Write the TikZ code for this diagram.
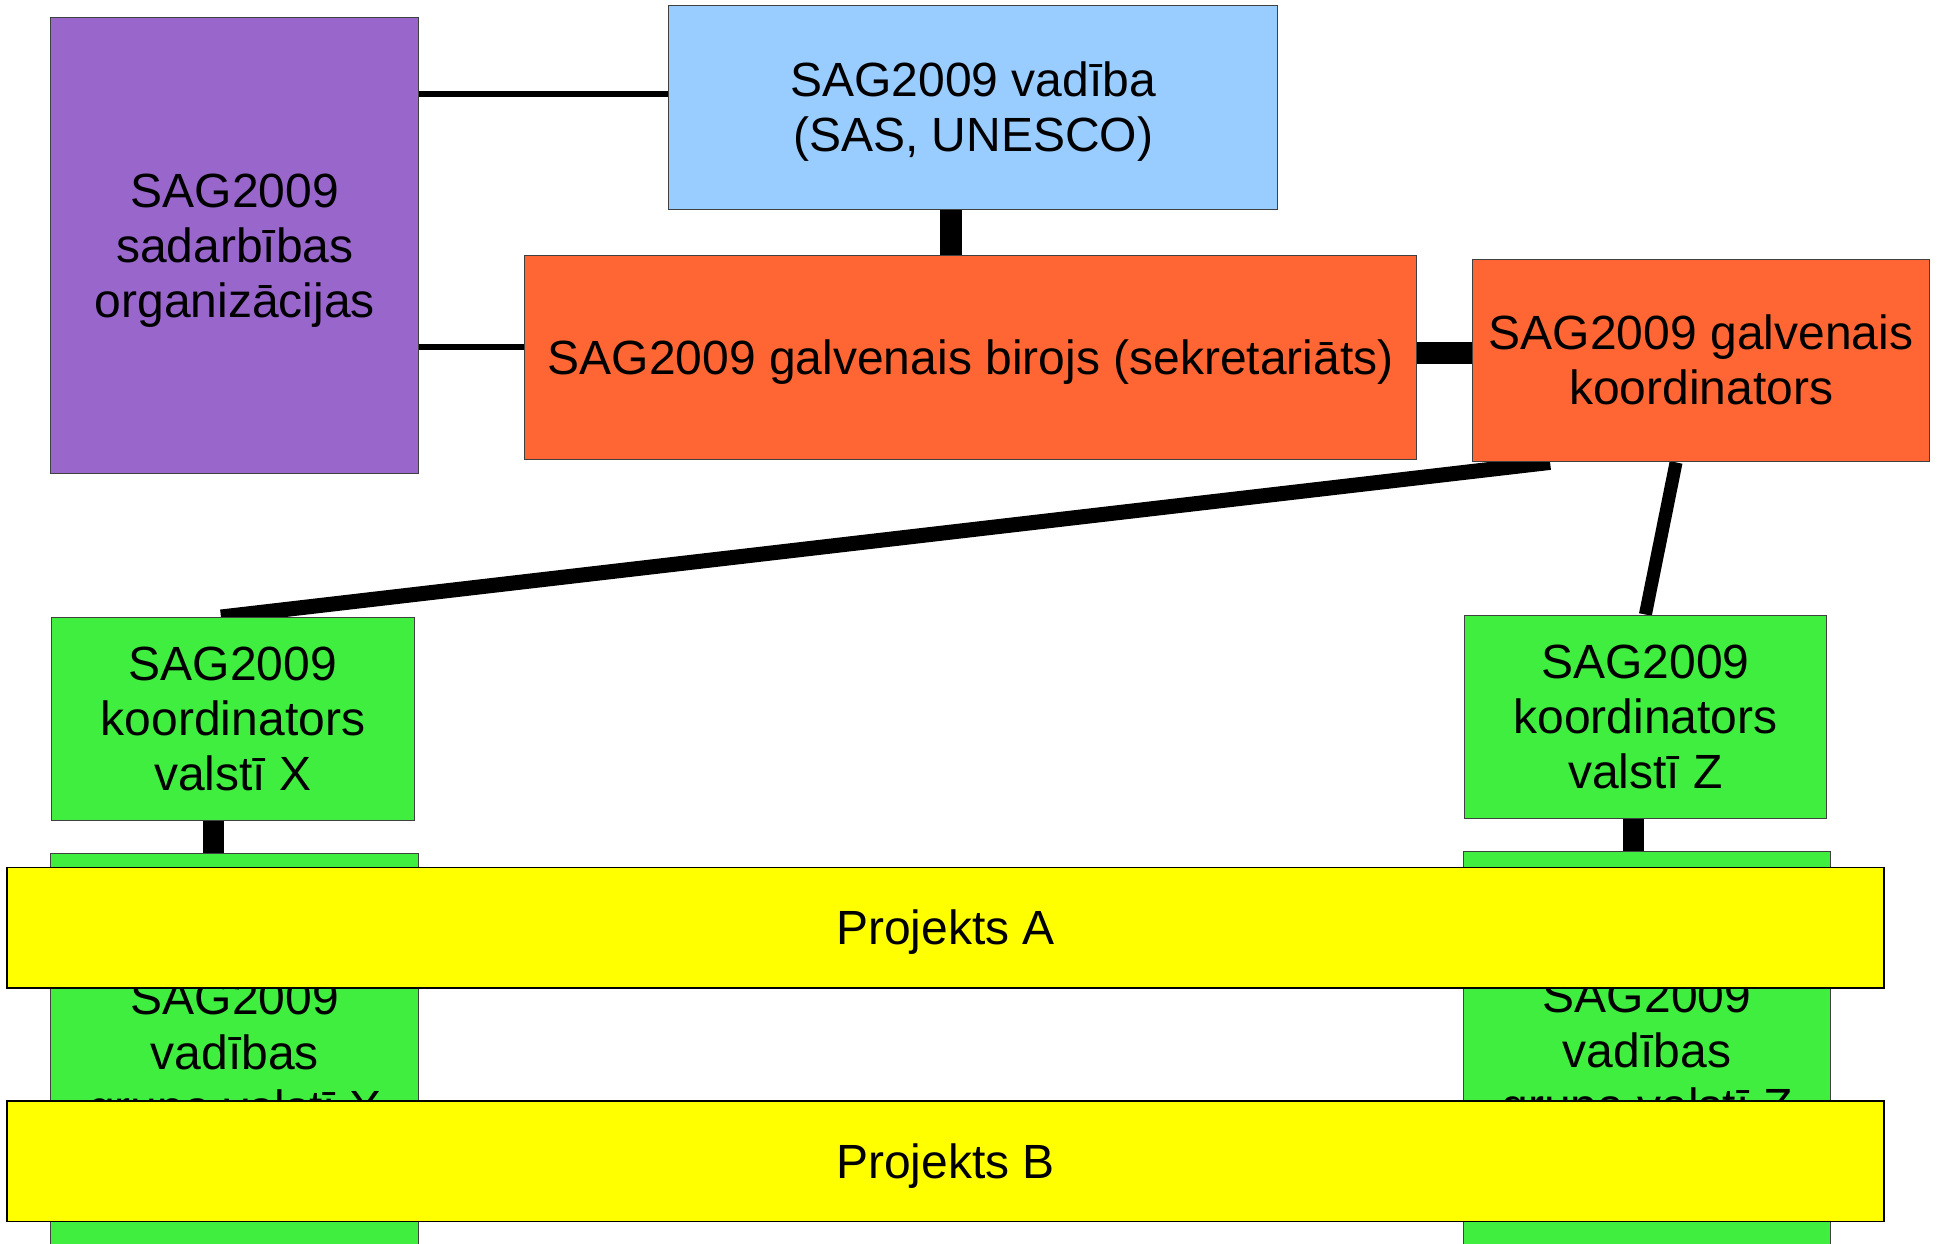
\documentclass[tikz,border=0pt]{standalone}
\usepackage{fontspec}
\setmainfont{Liberation Sans}
\usepackage{tikz}
\definecolor{orgviolet}{HTML}{9966CC}
\definecolor{vadblue}{HTML}{99CCFF}
\definecolor{birorange}{HTML}{FF6633}
\definecolor{valgreen}{HTML}{3FEE3F}
\definecolor{projyellow}{HTML}{FFFF00}
\newcommand{\linetop}{\rule{0pt}{43.4bp}}
\tikzset{mybox/.style={draw=black!75,line width=1bp,inner sep=0pt,align=center,
    execute at begin node={\linetop},execute at end node={\rule[-10.2bp]{0pt}{10.2bp}}} }
\tikzset{greenbox/.style={mybox,fill=valgreen,minimum width=362bp,minimum height=203bp} }
\tikzset{projbox/.style={mybox,draw=black,line width=1.5bp,fill=projyellow,minimum width=1877bp,minimum height=120.5bp} }
\tikzset{conn/.style={line width=#1,line cap=butt} }
\usetikzlibrary{positioning,backgrounds}

\begin{document}
\begin{tikzpicture}[x=1bp,y=-1bp,font=\fontsize{48bp}{55bp}\selectfont]
    \useasboundingbox (0,0) rectangle (1937,1243);
    \clip (0,0) rectangle (1937,1243);
    \node[mybox,fill=orgviolet,minimum width=368bp,minimum height=455.5bp] (org) at (234.8,245.6) {\linetop SAG2009\\sadarbības\\organizācijas};
    \node[mybox,fill=vadblue,minimum width=609bp,minimum height=203.3bp] (vad) at (973.2,107.6) {\linetop SAG2009 vadība\\(SAS, UNESCO)};
    \node[mybox,fill=birorange,minimum width=892bp,minimum height=203.3bp] (biroj) at (970.7,357.5) {SAG2009 galvenais birojs (sekretariāts)};
    \node[mybox,fill=birorange,minimum width=456.7bp,minimum height=202.8bp,right=55bp of biroj,yshift=-3bp] (koord) {\linetop SAG2009 galvenais\\koordinators};
    \node[greenbox] (valx) at (233,719) {\linetop SAG2009\\koordinators\\valstī X};
    \node[greenbox] (valz) at (1645.4,716.5) {\linetop SAG2009\\koordinators\\valstī Z};
    \node[greenbox,minimum width=368bp,minimum height=398bp,below=32.4bp of valx,xshift=1.8bp] (grpx) {\linetop SAG2009\\vadības\\grupa valstī X};
    \node[greenbox,minimum width=367bp,minimum height=398bp,below=32.4bp of valz,xshift=1.6bp] (grpz) {\linetop SAG2009\\vadības\\grupa valstī Z};
    \node[projbox] (proja) at (945.4,927.6) {Projekts A};
    \node[projbox] (projb) at (945.4,1161.4) {Projekts B};
    \begin{pgfonlayer}{background}
        \coordinate (vadin) at ([yshift=13.6bp]vad.west);
        \coordinate (birin) at ([yshift=10.3bp]biroj.west);
        \coordinate (vadout) at ([xshift=-22bp]vad.south);
        \coordinate (birout) at ([yshift=4.5bp]biroj.east);
        \coordinate (valxout) at ([xshift=-20bp]valx.south);
        \coordinate (valzout) at ([xshift=-12bp]valz.south);
        \draw[conn=6bp] (vadin -| org.east) -- (vadin);
        \draw[conn=6bp] (birin -| org.east) -- (birin);
        \draw[conn=22bp] (vadout) -- (vadout |- biroj.north);
        \draw[conn=22bp] (birout) -- (birout -| koord.west);
        \draw[conn=15bp] ([xshift=-151bp]koord.south) -- ([xshift=-12bp]valx.north);
        \draw[conn=13bp] ([xshift=-25bp]koord.south) -- (valz.north);
        \draw[conn=21bp] (valxout) -- (valxout |- grpx.north);
        \draw[conn=21bp] (valzout) -- (valzout |- grpz.north);
    \end{pgfonlayer}
\end{tikzpicture}
\end{document}
